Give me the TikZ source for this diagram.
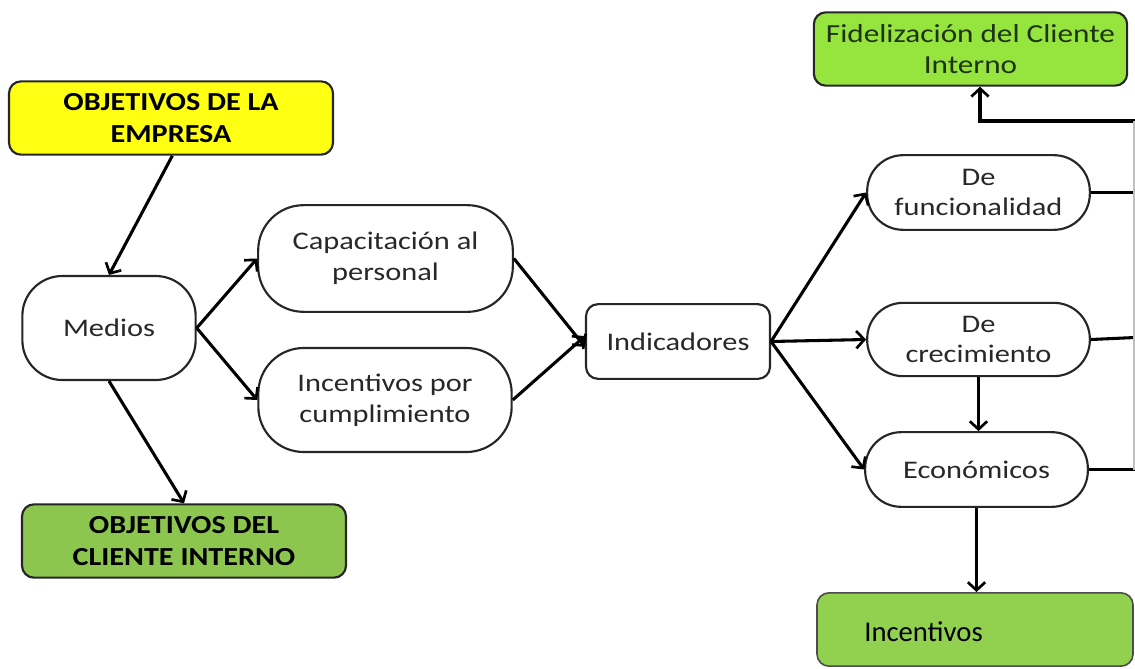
\documentclass[tikz,border=0pt]{standalone}
\usepackage{fontspec}
\setmainfont{Carlito}
\newfontfamily\wide{Carlito}[FakeStretch=1.2]
\newfontfamily\widebf{Carlito}[FakeStretch=1.16]
\usetikzlibrary{arrows.meta}
\definecolor{yel}{RGB}{255,255,20}
\definecolor{fidg}{RGB}{150,228,62}
\definecolor{clig}{RGB}{140,198,78}
\definecolor{incg}{RGB}{146,208,80}
\definecolor{txtg}{RGB}{40,40,40}
\tikzset{
  box/.style={draw=black!85, line width=1.6pt, align=center, inner sep=0pt, font=\wide\fontsize{19}{23}\selectfont, text=txtg},
  pill/.style={box, fill=white},
  hdr/.style={box, font=\widebf\bfseries\fontsize{19.5}{24}\selectfont, text=black, rounded corners=9pt},
  conn/.style={line width=2.3pt, -{Straight Barb[length=6pt,width=13pt,line width=2pt]}},
  plain/.style={line width=2.3pt},
}
\begin{document}
\begin{tikzpicture}[x=0.75pt,y=-0.75pt]
\useasboundingbox (0,0) rectangle (1135,668);
\clip (0,0) rectangle (1135,668);
% nodes
\node[hdr, fill=yel, minimum width=243pt, minimum height=55pt] (emp) at (171,118) {OBJETIVOS DE LA\\EMPRESA};
\node[hdr, fill=clig, minimum width=243pt, minimum height=55pt] (cli) at (184,541) {OBJETIVOS DEL\\CLIENTE INTERNO};
\node[pill, rounded corners=30pt, minimum width=130pt, minimum height=78pt] (med) at (109,328) {Medios};
\node[pill, rounded corners=34pt, minimum width=191pt, minimum height=80pt] (cap) at (385.5,258.5) {Capacitación al\\personal};
\node[pill, rounded corners=34pt, minimum width=190pt, minimum height=78pt] (inc) at (385,400) {Incentivos por\\cumplimiento};
\node[pill, rounded corners=9pt, minimum width=138pt, minimum height=56pt] (ind) at (678,341.5) {Indicadores};
\node[pill, rounded corners=27pt, minimum width=167pt, minimum height=56pt] (fun) at (978.5,192.5) {De\\funcionalidad};
\node[pill, rounded corners=27pt, minimum width=167pt, minimum height=55pt] (cre) at (978.5,339.5) {De\\crecimiento};
\node[pill, rounded corners=27pt, minimum width=167pt, minimum height=56pt] (eco) at (976.5,469.5) {Económicos};
\node[box, fill=fidg, rounded corners=9pt, minimum width=235pt, minimum height=55pt, font=\wide\fontsize{19.5}{23.5}\selectfont, text={rgb,255:red,30;green,50;blue,20}] (fid) at (970.5,49) {Fidelización del Cliente\\Interno};
\node[box, fill=incg, draw=black!70, line width=1.2pt, rounded corners=9pt, minimum width=237pt, minimum height=55pt] (ince) at (975,629.5) {};
\node[anchor=west, font=\fontsize{21.5}{25}\selectfont, text=black, inner sep=0pt] (incl) at (864,632) {Incentivos};
% coordinates on the right edge
\coordinate (rf) at (1135,192.5);
\coordinate (rc) at (1135,337.5);
\coordinate (re) at (1135,469.5);
\coordinate (rt) at (1135,121);
\coordinate (ct) at (980,121);
% connectors
\draw[conn] (emp.south) ++(1pt,0) -- (med.north);
\draw[conn] (med.south) -- (cli.north);
\draw[conn] (med.east) -- (cap.west);
\draw[conn] (med.east) -- (inc.west);
\draw[conn] (cap.east) -- ([yshift=-4pt]ind.west);
\draw[conn] (inc.east) -- ([yshift=4pt]ind.west);
\draw[conn] (ind.east) -- (fun.west);
\draw[conn] (ind.east) -- (cre.west);
\draw[conn] (ind.east) -- (eco.west);
\draw[conn] (cre.south) -- (cre.south |- eco.north);
\draw[conn] (eco.south) -- (eco.south |- ince.north);
\draw[plain] (fun.east) -- (rf);
\draw[plain] (cre.east) -- (rc);
\draw[plain] (eco.east) -- (re);
\draw[plain, -{Straight Barb[length=6pt,width=13pt,line width=2pt]}] (rt) -- (ct) -- (ct |- fid.south);
\draw[black!25, line width=0.8pt] (1134,121) -- (1134,470);
\end{tikzpicture}
\end{document}
